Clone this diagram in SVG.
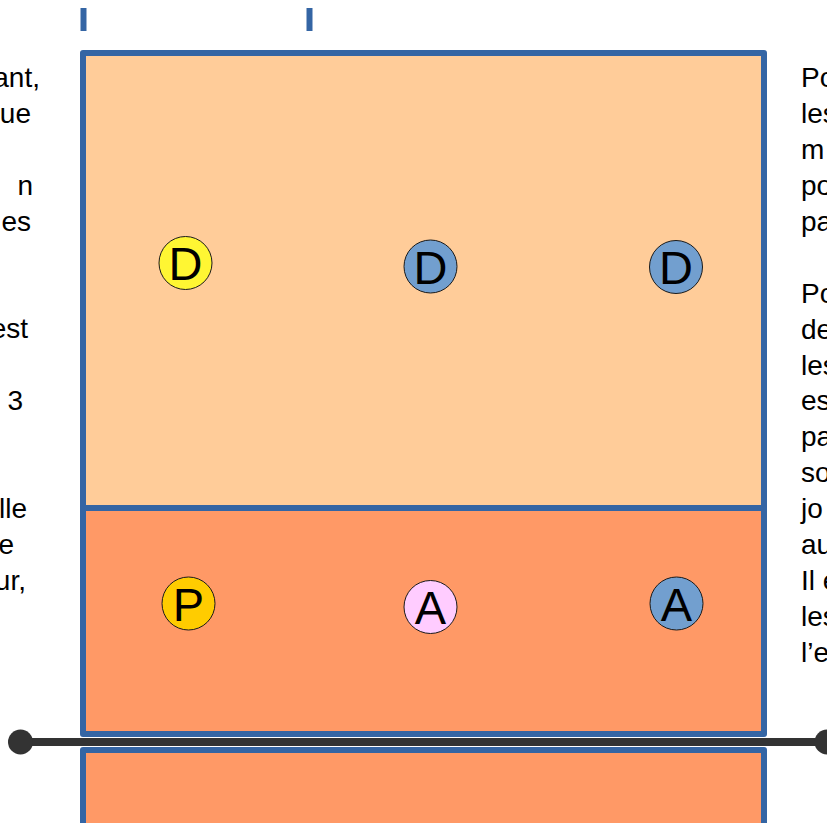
<svg xmlns="http://www.w3.org/2000/svg" width="827" height="823" viewBox="0 0 827 823">
<style>
.zone{stroke:#3465A4;stroke-width:6;stroke-linejoin:round}
.back{fill:#FFCC99}
.front{fill:#FF9966}
.tick{stroke:#3465A4;stroke-width:6}
.pl{stroke:#1a1a1a;stroke-width:1}
.lbl{font-family:"Liberation Sans",Arial,sans-serif;font-size:47px;fill:#000;text-anchor:middle}
.txt{font-family:"Liberation Sans",Arial,sans-serif;font-size:28px;fill:#000}
.end{text-anchor:end}
</style>
<rect width="827" height="823" fill="#FFFFFF"/>
<g id="ticks">
<line class="tick" x1="83.5" y1="8" x2="83.5" y2="31"/>
<line class="tick" x1="309.5" y1="8" x2="309.5" y2="31"/>
</g>
<g id="court">
<rect id="zone-back" class="zone back" x="83" y="53" width="681" height="455"/>
<rect id="zone-front" class="zone front" x="83" y="508" width="681" height="226"/>
<rect id="zone-opp" class="zone front" x="83" y="750" width="681" height="100"/>
</g>
<g id="connectors">
<line x1="20" y1="742" x2="827" y2="742" stroke="#333333" stroke-width="8"/>
<circle cx="20.5" cy="742" r="12.5" fill="#333333"/>
<circle cx="827" cy="742" r="12.5" fill="#333333"/>
</g>
<g id="p-d1"><circle class="pl" cx="185.5" cy="263" r="26.5" fill="#FFF633"/><text class="lbl" x="185.5" y="280">D</text></g>
<g id="p-d2"><circle class="pl" cx="430.5" cy="266.5" r="26.5" fill="#729FCF"/><text class="lbl" x="430.5" y="283.5">D</text></g>
<g id="p-d3"><circle class="pl" cx="676" cy="267" r="26.5" fill="#729FCF"/><text class="lbl" x="676" y="284">D</text></g>
<g id="p-p"><circle class="pl" cx="188.5" cy="603.5" r="26.5" fill="#FFCC00"/><text class="lbl" x="188.5" y="620.5">P</text></g>
<g id="p-a1"><circle class="pl" cx="430.5" cy="607" r="26.5" fill="#FFCCFF"/><text class="lbl" x="430.5" y="624">A</text></g>
<g id="p-a2"><circle class="pl" cx="676.5" cy="603.5" r="26.5" fill="#729FCF"/><text class="lbl" x="676.5" y="620.5">A</text></g>
<g id="text-left">
<text class="txt end" x="40" y="87">ant,</text>
<text class="txt end" x="31" y="123">ue</text>
<text class="txt end" x="33" y="194.5">n</text>
<text class="txt end" x="31" y="230.5">es</text>
<text class="txt end" x="28" y="338">est</text>
<text class="txt end" x="23" y="410">3</text>
<text class="txt end" x="27" y="517.5">lle</text>
<text class="txt end" x="14" y="553.5">e</text>
<text class="txt end" x="26" y="589.5">ur,</text>
</g>
<g id="text-right">
<text class="txt" x="801" y="87">Po</text>
<text class="txt" x="801" y="123">les</text>
<text class="txt" x="801" y="159">m</text>
<text class="txt" x="801" y="195">po</text>
<text class="txt" x="801" y="231">pa</text>
<text class="txt" x="801" y="302.5">Po</text>
<text class="txt" x="801" y="338.5">de</text>
<text class="txt" x="801" y="374.5">les</text>
<text class="txt" x="801" y="410">es</text>
<text class="txt" x="801" y="446">pa</text>
<text class="txt" x="801" y="482">so</text>
<text class="txt" x="801" y="518">jo</text>
<text class="txt" x="801" y="554">au</text>
<text class="txt" x="801" y="590">Il e</text>
<text class="txt" x="801" y="626">les</text>
<text class="txt" x="801" y="662">l’e</text>
</g>
</svg>
